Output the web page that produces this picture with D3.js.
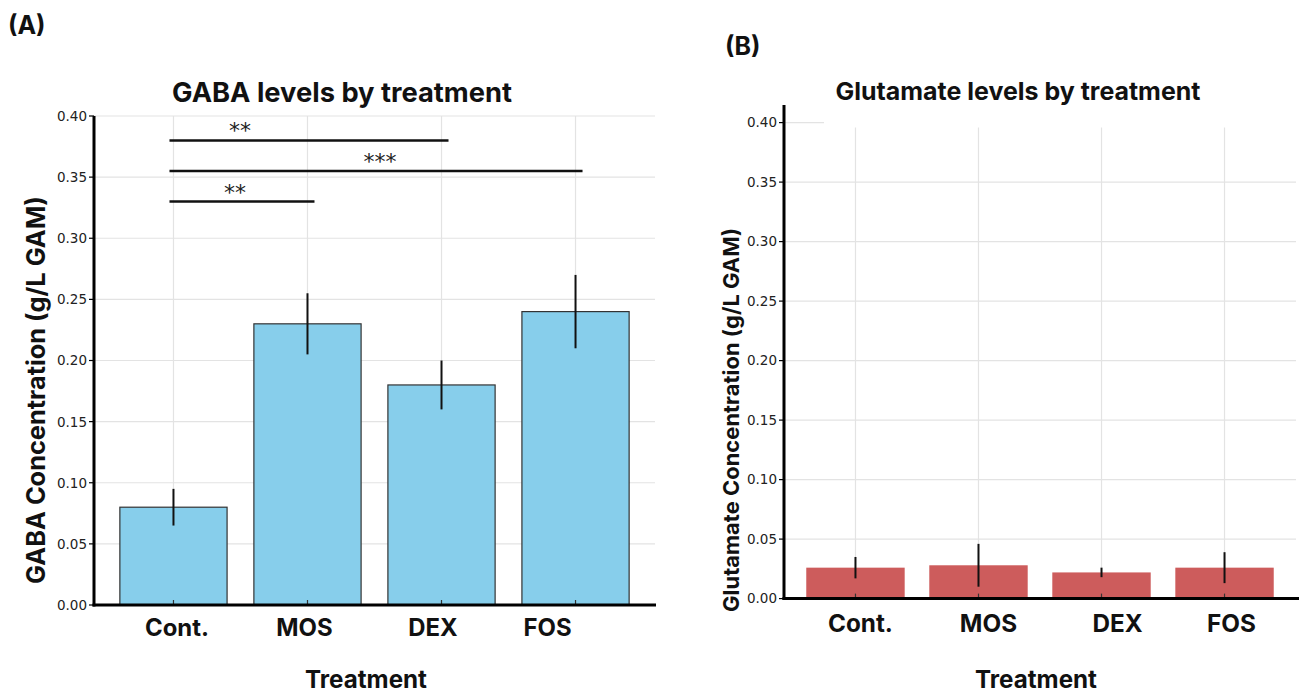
<!DOCTYPE html>
<html>
<head>
<meta charset="utf-8">
<script src="https://cdn.jsdelivr.net/npm/d3@7"></script>
<style>
  html, body { margin: 0; padding: 0; background: #fff; }
  svg { display: block; }
</style>
</head>
<body>
<svg id="chart" width="1299" height="693"></svg>
<script>
// ---------------- data ----------------
const categories = ["Cont.", "MOS", "DEX", "FOS"];
const gabaMean = [0.08, 0.23, 0.18, 0.24];
const gabaErr  = [0.015, 0.025, 0.02, 0.03];
const gluMean  = [0.026, 0.028, 0.022, 0.026];
const gluErr   = [0.009, 0.018, 0.004, 0.013];
const yTicks   = [0.00, 0.05, 0.10, 0.15, 0.20, 0.25, 0.30, 0.35, 0.40];
const sigFrom   = [0, 0, 0];
const sigTo     = [2, 3, 1];
const sigLevel  = [0.38, 0.355, 0.33];
const sigLabel  = ["**", "***", "**"];

// ---------------- layout constants ----------------
const svg = d3.select("#chart");
const titleFont = "Inter, 'Open Sans', 'Noto Sans', sans-serif";
const tickFont = "'DejaVu Sans', sans-serif";
const gridColor = "#e3e3e3";

function fitText(sel, width) {
  const node = sel.node();
  const fs = parseFloat(sel.attr("font-size"));
  const len = node.getComputedTextLength();
  if (len > 0) sel.attr("font-size", (fs * width / len).toFixed(2));
  return sel;
}

function panel(cfg) {
  const g = svg.append("g");
  const x = d3.scalePoint().domain(categories).range([cfg.x0, cfg.x1]).padding(cfg.pad);
  const y = d3.scaleLinear().domain([0, 0.40]).range([cfg.yBottom, cfg.yTop]);
  const step = x.step();
  const bw = step * 0.8;

  // horizontal gridlines
  g.append("g").selectAll("line").data(yTicks).join("line")
    .attr("x1", cfg.x0).attr("x2", d => (d === 0.40 && cfg.shortTopGrid) ? cfg.x0 + 40 : cfg.x1)
    .attr("y1", d => y(d)).attr("y2", d => y(d))
    .attr("stroke", gridColor).attr("stroke-width", 1.2);
  // vertical gridlines
  g.append("g").selectAll("line").data(categories).join("line")
    .attr("x1", d => x(d)).attr("x2", d => x(d))
    .attr("y1", y(0.40) + (cfg.vGridTopOffset || 0)).attr("y2", y(0))
    .attr("stroke", gridColor).attr("stroke-width", 1.2);

  // bars
  g.append("g").selectAll("rect").data(cfg.mean).join("rect")
    .attr("x", (d, i) => x(categories[i]) - bw / 2)
    .attr("width", bw)
    .attr("y", d => y(d))
    .attr("height", d => y(0) - y(d))
    .attr("fill", cfg.fill)
    .attr("stroke", cfg.stroke || "none")
    .attr("stroke-width", cfg.stroke ? 1.2 : 0);

  // x tick marks (inward)
  g.append("g").selectAll("line").data(categories).join("line")
    .attr("x1", d => x(d)).attr("x2", d => x(d))
    .attr("y1", y(0)).attr("y2", y(0) - 5)
    .attr("stroke", "#333").attr("stroke-width", 1.2);

  // error bars
  g.append("g").selectAll("line").data(cfg.mean).join("line")
    .attr("x1", (d, i) => x(categories[i])).attr("x2", (d, i) => x(categories[i]))
    .attr("y1", (d, i) => y(d + cfg.err[i])).attr("y2", (d, i) => y(d - cfg.err[i]))
    .attr("stroke", "#111").attr("stroke-width", 2);

  // axes lines
  g.append("line").attr("x1", cfg.x0).attr("x2", cfg.x0)
    .attr("y1", cfg.axisTop).attr("y2", y(0) + 1.5)
    .attr("stroke", "#000").attr("stroke-width", 3);
  g.append("line").attr("x1", cfg.x0 - 1.5).attr("x2", cfg.xAxisEnd)
    .attr("y1", y(0)).attr("y2", y(0))
    .attr("stroke", "#000").attr("stroke-width", 3);

  // y ticks
  const yt = g.append("g").selectAll("g").data(yTicks).join("g")
    .attr("transform", d => `translate(${cfg.x0},${y(d)})`);
  yt.append("line").attr("x1", -5).attr("x2", 0).attr("stroke", "#000").attr("stroke-width", 1.2);
  yt.append("text").attr("x", -7).attr("dy", "0.36em")
    .attr("text-anchor", "end").attr("font-family", tickFont).attr("font-size", 13.5)
    .attr("fill", "#222").text(d => d.toFixed(2));

  // x tick labels
  const xl = g.append("g").selectAll("text").data(categories).join("text")
    .attr("x", (d, i) => x(d) + cfg.labelDx[i]).attr("y", cfg.tickLabelY)
    .attr("text-anchor", "middle").attr("font-family", titleFont).attr("font-weight", 700)
    .attr("font-size", 22).attr("fill", "#111").text(d => d);
  const first = d3.select(xl.nodes()[0]);
  fitText(first, cfg.firstLabelLen);
  xl.attr("font-size", first.attr("font-size"));

  // axis titles
  g.append("text").attr("x", cfg.xTitleX).attr("y", 688)
    .attr("text-anchor", "middle").attr("font-family", titleFont).attr("font-weight", 700)
    .attr("font-size", 22).attr("fill", "#111").text("Treatment")
    .call(s => fitText(s, 122));
  const yl = g.append("text")
    .attr("transform", `translate(${cfg.yTitleX},${cfg.yTitleY}) rotate(-90)`)
    .attr("text-anchor", "middle").attr("dy", "0.35em")
    .attr("font-family", titleFont).attr("font-weight", 700)
    .attr("font-size", 19).attr("fill", "#111").text(cfg.yTitle);
  fitText(yl, cfg.yTitleLen);

  // title
  const t = g.append("text").attr("x", cfg.titleX).attr("y", cfg.titleY)
    .attr("text-anchor", "middle").attr("font-family", titleFont).attr("font-weight", 700)
    .attr("font-size", 24).attr("fill", "#111").text(cfg.title);
  fitText(t, cfg.titleLen);

  // panel letter
  g.append("text").attr("x", cfg.letterX).attr("y", cfg.letterY)
    .attr("font-family", titleFont).attr("font-weight", 700)
    .attr("font-size", 25).attr("fill", "#111").text(cfg.letter);

  return { g, x, y };
}

// ---------------- panel A ----------------
const A = panel({
  x0: 94, x1: 655, xAxisEnd: 656, pad: 0.593,
  yBottom: 605, yTop: 116, axisTop: 116,
  mean: gabaMean, err: gabaErr, fill: "#87CEEB", stroke: "#333",
  labelDx: [3.5, -3, -8.5, -28], tickLabelY: 636, firstLabelLen: 64,
  xTitleX: 366, yTitleX: 36, yTitleY: 390, yTitleLen: 388,
  yTitle: "GABA Concentration (g/L GAM)",
  title: "GABA levels by treatment", titleX: 342, titleY: 102, titleLen: 340,
  letter: "(A)", letterX: 8, letterY: 34
});

// significance bars
const sigG = A.g.append("g");
const starDx = [-69, 4, -7];
sigLevel.forEach((lv, i) => {
  const xa = A.x(categories[sigFrom[i]]) - 4;
  const xb = A.x(categories[sigTo[i]]) + 7;
  sigG.append("line").attr("x1", xa).attr("x2", xb)
    .attr("y1", A.y(lv)).attr("y2", A.y(lv))
    .attr("stroke", "#111").attr("stroke-width", 2.5);
  sigG.append("text").attr("x", (xa + xb) / 2 + starDx[i]).attr("y", A.y(lv) - 15 + 13)
    .attr("text-anchor", "middle").attr("font-family", tickFont)
    .attr("font-size", 22).attr("fill", "#222").text(sigLabel[i]);
});

// ---------------- panel B ----------------
panel({
  x0: 784, x1: 1296, xAxisEnd: 1299, pad: 0.581,
  yBottom: 598.6, yTop: 122.6, axisTop: 105, shortTopGrid: true, vGridTopOffset: 5,
  mean: gluMean, err: gluErr, fill: "#CD5C5C", stroke: null,
  labelDx: [5, 10, 16, 7], tickLabelY: 632, firstLabelLen: 65,
  xTitleX: 1036, yTitleX: 731, yTitleY: 420, yTitleLen: 384,
  yTitle: "Glutamate Concentration (g/L GAM)",
  title: "Glutamate levels by treatment", titleX: 1018, titleY: 100, titleLen: 365,
  letter: "(B)", letterX: 725, letterY: 55
});
</script>
</body>
</html>
